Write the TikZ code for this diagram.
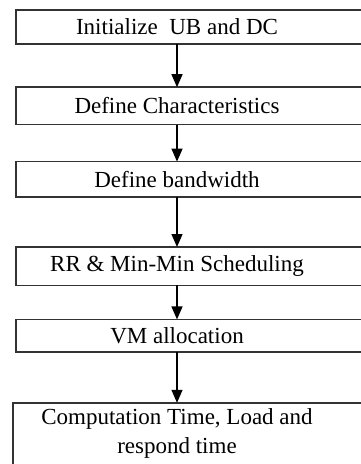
\documentclass[tikz,border=0pt]{standalone}
\usepackage{fontspec}
\setmainfont{Liberation Serif}
\usetikzlibrary{positioning}
\usetikzlibrary{arrows.meta}

\begin{document}
\begin{tikzpicture}[x=1pt,y=-1pt,
    stepbox/.style = {rectangle, inner sep=2pt, minimum width=322pt,
                      font=\fontsize{23}{29}\selectfont, align=center},
    flow/.style = {line width=1.3pt, -{Triangle[length=13pt,width=11pt]}}]
      \useasboundingbox (0,0) rectangle (361,464);
      \clip (0,0) rectangle (361,464);
      \node[stepbox, minimum height=34pt](init) at (177,27){Initialize\ \ UB and DC};
      \node[stepbox, minimum height=37pt](chars)[below=43pt of init]{Define Characteristics};
      \node[stepbox, minimum height=35pt](bw)[below=37pt of chars]{Define bandwidth};
      \node[stepbox, minimum height=38pt](sched)[below=50pt of bw]{RR \& Min-Min Scheduling};
      \node[stepbox, minimum height=32pt](vm)[below=34pt of sched]{VM allocation};
      \node[stepbox, minimum height=60pt, minimum width=328pt](comp)[below=51pt of vm]{Computation Time, Load and\\respond time};
      % boxes run on past the right edge
      \foreach \n in {init,chars,bw,sched,vm}
        \draw[line width=1.6pt, black!80] (\n.north west) rectangle ([xshift=60pt]\n.south east);
      \draw[line width=1.6pt, black!80] (comp.north west) rectangle ([xshift=60pt,yshift=-30pt]comp.south east);
      \draw[flow] (init) -- (chars);
      \draw[flow] (chars) -- (bw);
      \draw[flow] (bw) -- (sched);
      \draw[flow] (sched) -- (vm);
      \draw[flow] (vm) -- (comp);
    \end{tikzpicture}
\end{document}
